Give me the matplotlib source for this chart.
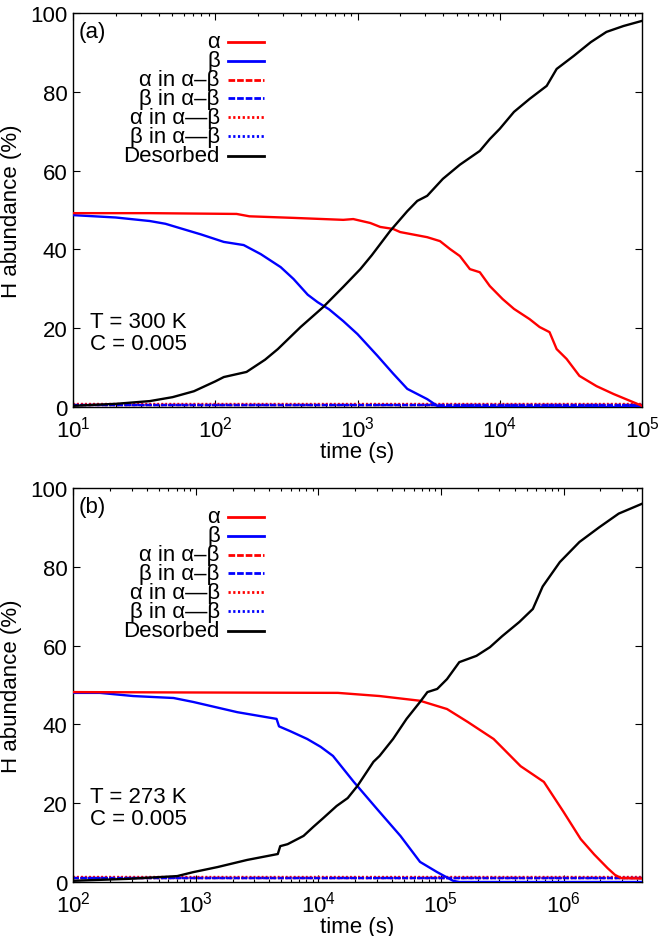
import numpy as np
import matplotlib
matplotlib.use("Agg")
import matplotlib.pyplot as plt
from matplotlib.lines import Line2D
from matplotlib.ticker import LogLocator, NullFormatter, MultipleLocator

plt.rcParams['font.family'] = ['Liberation Sans', 'DejaVu Sans']
plt.rcParams['mathtext.fontset'] = 'custom'
plt.rcParams['mathtext.rm'] = 'Liberation Sans'
plt.rcParams['mathtext.it'] = 'Liberation Sans:italic'
plt.rcParams['mathtext.bf'] = 'Liberation Sans:bold'

# ---------------- Panel (a): T = 300 K ----------------
alpha_a_logt = [1.0, 1.54, 2.15, 2.24, 2.55, 2.9, 2.97, 3.09, 3.16, 3.25, 3.3, 3.49, 3.58, 3.65,
                3.72, 3.79, 3.86, 3.93, 4.02, 4.1, 4.21, 4.28, 4.35, 4.4, 4.47, 4.56, 4.68,
                4.8, 4.92, 5.0]
alpha_a_val = [49.2, 49.2, 49.0, 48.4, 48.0, 47.5, 47.7, 46.7, 45.7, 45.2, 44.4, 43.1, 42.1, 40.1,
               38.3, 35.0, 34.2, 30.7, 27.4, 24.9, 22.3, 20.3, 19.0, 14.7, 12.2, 7.9, 5.3,
               3.3, 1.5, 0.3]

beta_a_logt = [1.0, 1.3, 1.54, 1.65, 1.77, 1.9, 2.06, 2.2, 2.32, 2.46, 2.55, 2.65, 2.72, 2.8,
               2.9, 3.0, 3.14, 3.25, 3.35, 3.49, 3.56, 3.6, 5.0]
beta_a_val = [48.7, 48.1, 47.2, 46.5, 45.2, 43.8, 41.9, 41.1, 38.8, 35.5, 32.5, 28.5, 26.6, 24.8,
              21.8, 18.5, 13.0, 8.5, 4.6, 2.0, 0.3, 0.0, 0.0]

des_a_logt = [1.0, 1.3, 1.54, 1.7, 1.85, 2.0, 2.06, 2.22, 2.35, 2.44, 2.6, 2.76, 2.9, 3.02, 3.1,
              3.23, 3.35, 3.42, 3.49, 3.6, 3.72, 3.86, 3.93, 4.0, 4.1, 4.21, 4.33, 4.4, 4.52,
              4.64, 4.75, 4.87, 5.0]
des_a_val = [0.3, 0.8, 1.5, 2.5, 4.0, 6.5, 7.6, 8.9, 12.0, 14.7, 20.3, 25.4, 30.5, 35.0, 38.5,
             44.7, 49.7, 52.3, 53.6, 57.9, 61.5, 65.0, 68.0, 70.6, 74.9, 78.2, 81.5, 85.8, 89.1,
             92.6, 95.2, 96.7, 98.0]

pair_a_logt = [1.0, 5.0]
a_in_ab_a = [0.6, 0.6]
b_in_ab_a = [0.5, 0.5]
a_in_aab_a = [0.7, 0.7]
b_in_aab_a = [0.6, 0.6]

# ---------------- Panel (b): T = 273 K ----------------
alpha_b_logt = [2.0, 3.0, 4.16, 4.5, 4.83, 5.05, 5.22, 5.43, 5.51, 5.65, 5.84, 6.0, 6.14,
                6.25, 6.36, 6.42, 6.47, 6.64]
alpha_b_val = [48.2, 48.1, 48.0, 47.2, 46.0, 43.9, 40.6, 36.3, 33.8, 29.4, 25.4, 17.8, 10.9,
               7.0, 3.5, 1.8, 1.0, 0.9]

beta_b_logt = [2.0, 2.22, 2.49, 2.82, 2.98, 3.34, 3.66, 3.68, 3.77, 3.91, 4.02, 4.12, 4.29,
               4.48, 4.67, 4.83, 4.97, 5.1, 5.15, 6.64]
beta_b_val = [48.0, 48.0, 47.2, 46.7, 45.7, 43.1, 41.4, 39.5, 38.3, 36.3, 34.3, 32.0, 25.4,
              18.5, 11.7, 5.1, 2.5, 0.3, 0.0, 0.0]

des_b_logt = [2.0, 2.45, 2.85, 2.98, 3.18, 3.42, 3.67, 3.69, 3.75, 3.88, 3.96, 4.04, 4.15,
              4.24, 4.32, 4.45, 4.5, 4.61, 4.72, 4.83, 4.89, 4.97, 5.05, 5.15, 5.29, 5.4,
              5.5, 5.64, 5.75, 5.83, 5.97, 6.13, 6.29, 6.45, 6.64]
des_b_val = [0.3, 0.8, 1.5, 2.5, 3.8, 5.6, 7.1, 9.1, 9.6, 11.7, 14.0, 16.2, 19.3,
             21.3, 24.4, 30.5, 32.0, 36.3, 41.4, 45.7, 48.2, 49.0, 51.5, 55.8, 57.4, 59.6,
             62.4, 66.0, 69.3, 75.0, 81.2, 86.3, 90.0, 93.5, 96.0]

pair_b_logt = [2.0, 6.64]
a_in_ab_b = [1.1, 1.1]
b_in_ab_b = [1.0, 1.0]
a_in_aab_b = [1.2, 1.2]
b_in_aab_b = [1.1, 1.1]

labels = ["α", "β", "α in α–β", "β in α–β", "α in α—β", "β in α—β", "Desorbed"]

RED = "#ff0000"
BLUE = "#0000ff"
BLACK = "#000000"
LW = 1.7
DASH = (0, (2.4, 0.7))
DOT = (0, (0.8, 0.9))
styles = [(RED, '-'), (BLUE, '-'), (RED, DASH), (BLUE, DASH), (RED, DOT), (BLUE, DOT), (BLACK, '-')]

fig = plt.figure(figsize=(6.6, 9.37), dpi=100)
ax_a = fig.add_axes([73/660, 1-408/937, 569/660, 394/937])
ax_b = fig.add_axes([73/660, 1-883/937, 569/660, 394/937])


def t(logs):
    return 10 ** np.asarray(logs, dtype=float)


def panel(ax, series, xlim, tag, temp):
    order = [2, 3, 4, 5, 1, 0, 6]
    for i in order:
        lt, v = series[i]
        c, ls = styles[i]
        ax.plot(t(lt), v, color=c, ls=ls, lw=LW, zorder=3 if ls == '-' else 2)
    ax.set_xscale('log')
    ax.set_xlim(*xlim)
    ax.set_ylim(0, 100)
    ax.yaxis.set_major_locator(MultipleLocator(20))
    ax.xaxis.set_major_locator(LogLocator(base=10, numticks=20))
    ax.xaxis.set_minor_locator(LogLocator(base=10, subs=np.arange(2, 10), numticks=20))
    ax.xaxis.set_minor_formatter(NullFormatter())
    ax.tick_params(which='both', direction='in', top=True, right=True, labelsize=16)
    ax.tick_params(which='major', length=5, width=0.8, pad=4)
    ax.tick_params(which='minor', length=2.5, width=0.8)
    ax.tick_params(axis='x', which='major', pad=6)
    for s in ax.spines.values():
        s.set_linewidth(1.0)
    ax.set_xlabel("time (s)", fontsize=16, labelpad=0)
    ax.set_ylabel("H abundance (%)", fontsize=16, labelpad=6)
    ax.text(0.010, 0.952, tag, transform=ax.transAxes, fontsize=16, va='center', ha='left')
    ax.text(0.030, 0.218, temp, transform=ax.transAxes, fontsize=16, va='center', ha='left')
    ax.text(0.030, 0.160, "C = 0.005", transform=ax.transAxes, fontsize=16, va='center', ha='left')
    # gnuplot-style key: right-aligned text with sample to the right
    ys = [0.927, 0.879, 0.831, 0.783, 0.735, 0.687, 0.638]
    for lab, (c, ls), yy in zip(labels, styles, ys):
        ax.text(0.258, yy, lab, transform=ax.transAxes, fontsize=16, va='center', ha='right')
        ax.add_line(Line2D([0.272, 0.336], [yy, yy], transform=ax.transAxes, color=c, ls=ls,
                           lw=LW + 0.3, clip_on=False))


series_a = [(alpha_a_logt, alpha_a_val), (beta_a_logt, beta_a_val),
            (pair_a_logt, a_in_ab_a), (pair_a_logt, b_in_ab_a),
            (pair_a_logt, a_in_aab_a), (pair_a_logt, b_in_aab_a),
            (des_a_logt, des_a_val)]
series_b = [(alpha_b_logt, alpha_b_val), (beta_b_logt, beta_b_val),
            (pair_b_logt, a_in_ab_b), (pair_b_logt, b_in_ab_b),
            (pair_b_logt, a_in_aab_b), (pair_b_logt, b_in_aab_b),
            (des_b_logt, des_b_val)]

panel(ax_a, series_a, (1e1, 1e5), "(a)", "T = 300 K")
panel(ax_b, series_b, (1e2, 10 ** 6.64), "(b)", "T = 273 K")

fig.savefig("out.png", dpi=100)
